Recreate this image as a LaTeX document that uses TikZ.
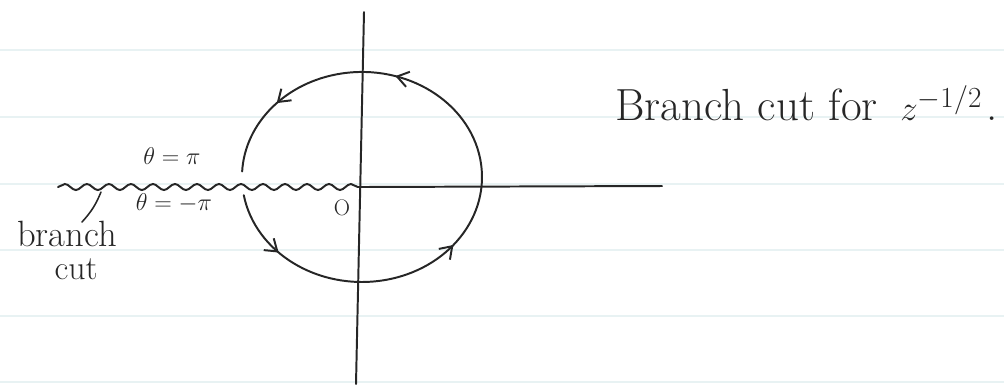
\documentclass[tikz,border=0pt]{standalone}
\usepackage{tikz}
\usetikzlibrary{arrows.meta,decorations.pathmorphing,decorations.markings}
\definecolor{ink}{HTML}{262626}
\definecolor{paperrule}{HTML}{E8F2F3}

\begin{document}
\begin{tikzpicture}[x=0.025cm,y=-0.025cm,
  pen/.style={draw=ink,line width=1.4pt,line cap=round},
  wavycut/.style={pen,decorate,decoration={snake,segment length=0.55cm,amplitude=0.075cm}},
  flowtip/.style={pen,postaction={decorate},decoration={markings,
    mark=at position 0.10 with {\arrow{Straight Barb[length=8pt,width=11pt]}},
    mark=at position 0.38 with {\arrow{Straight Barb[length=8pt,width=11pt]}},
    mark=at position 0.70 with {\arrow{Straight Barb[length=8pt,width=11pt]}},
    mark=at position 0.885 with {\arrow{Straight Barb[length=8pt,width=11pt]}}}},
  hand/.style={text=ink,inner sep=0pt}]
\useasboundingbox (0,0) rectangle (1004,384);
% ruled paper
\foreach \ry in {50,117,184,250,316,382}
  \draw[paperrule,line width=0.8pt] (0,\ry) -- (1004,\ry);
% axes and the cut
\coordinate (O) at (362,187);
\coordinate (ytop) at (364,12);
\coordinate (ybot) at (356,384);
\coordinate (xend) at (662,186);
\coordinate (cutend) at (58,187);
\draw[pen] (ytop) -- (ybot);
\draw[pen] (O) -- (xend);
\draw[wavycut] (cutend) -- (O);
% contour round the origin
\coordinate (cstart) at (243.8,195.2);
\draw[flowtip] (cstart) arc[start angle=170,end angle=-177,x radius=120,y radius=105];
% labels
\node[hand,font=\fontsize{32}{36}\selectfont,anchor=base west] (title) at (615,120) {Branch cut for\hspace{0.5em}$z^{-1/2}$\hspace{0.1em}.};
\node[hand,font=\fontsize{18}{20}\selectfont] (thetaup) at (172,156) {$\theta=\pi$};
\node[hand,font=\fontsize{18}{20}\selectfont] (thetadn) at (174,203) {$\theta=-\pi$};
\node[hand,font=\fontsize{16}{18}\selectfont] (orig) at (342,208) {O};
\node[hand,font=\fontsize{26}{28}\selectfont,anchor=base] (bword) at (67,246) {branch};
\node[hand,font=\fontsize{24}{26}\selectfont,anchor=base] (cword) at (76,279) {cut};
\coordinate (ptail) at (82,222);
\coordinate (ptip) at (101,192);
\draw[pen,line width=1.1pt] (ptail) to[bend right=10] (ptip);
\end{tikzpicture}
\end{document}
